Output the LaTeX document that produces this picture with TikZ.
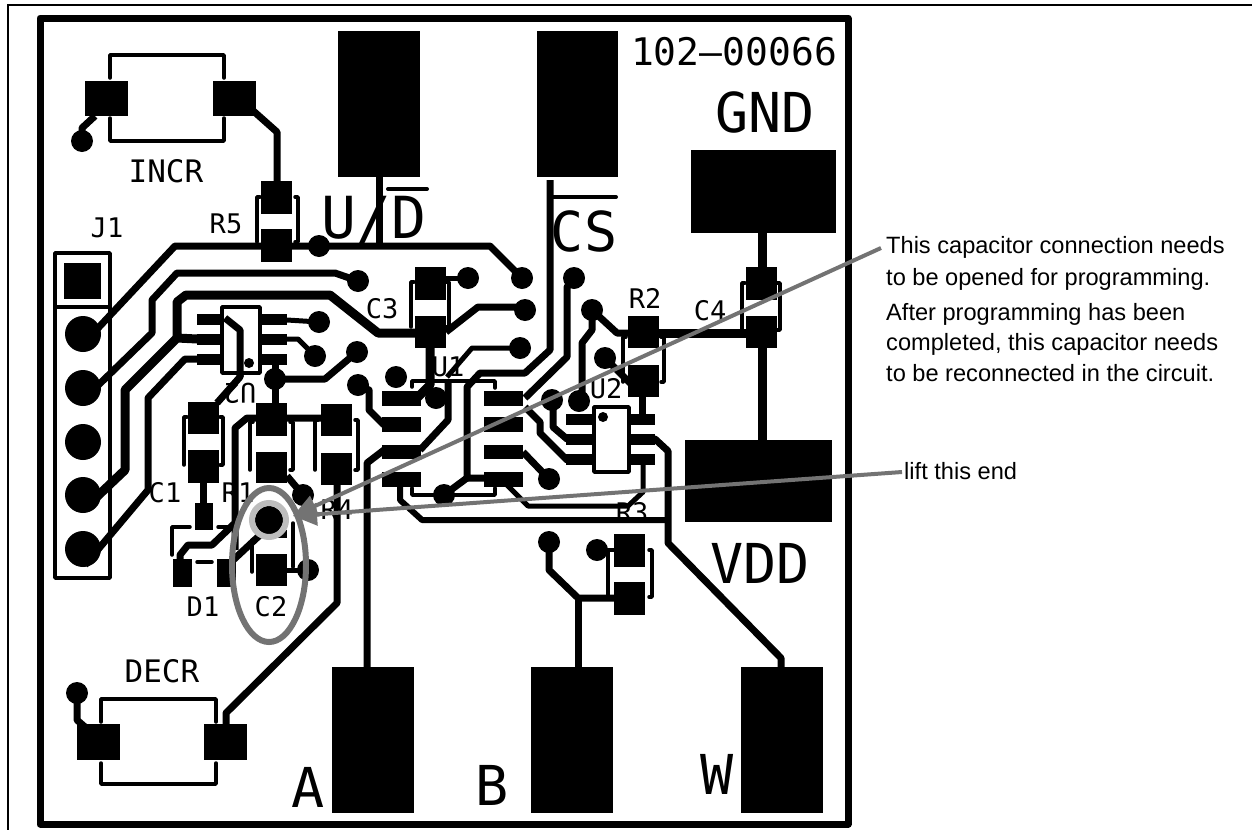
\documentclass[tikz,border=0pt]{standalone}
\usepackage{fontspec}
\usetikzlibrary{arrows.meta}
\setmainfont{Liberation Sans}
\newfontfamily\pcbfont{DejaVu Sans Mono}

\tikzset{
  trace/.style={line width=7pt,line join=round},
  silk/.style={line width=3.5pt,line cap=round,line join=round},
  legend/.style={font=\pcbfont\fontsize{27}{27}\selectfont,inner sep=0pt},
  biglegend/.style={font=\pcbfont\fontsize{55}{55}\selectfont,inner sep=0pt},
  midlegend/.style={font=\pcbfont\fontsize{31}{31}\selectfont,inner sep=0pt},
  note/.style={font=\fontsize{23.6}{23.6}\selectfont,anchor=west,inner sep=0pt},
  leader/.style={draw=leadgray,line width=4pt,-{Triangle[length=24pt,width=22pt]}}
}
\definecolor{leadgray}{HTML}{737373}
\definecolor{ringgray}{HTML}{BDBDBD}

\begin{document}
\begin{tikzpicture}[x=1pt,y=-1pt]
\useasboundingbox (0,0) rectangle (1252,830);

% Page and board edges
\draw[line width=2.5pt] (1252,5) -- (8,5) -- (8,830);
\draw[line width=7pt,line join=round] (40,18) rectangle (848,824);

% Legends
\node[legend] (j1txt) at (107,228) {J1};
\node[legend] (r5txt) at (226,224) {R5};
\node[legend] (c3txt) at (382,309) {C3};
\node[legend] (r2txt) at (645,298) {R2};
\node[legend] (c4txt) at (710,311) {C4};
\node[legend] (u2txt) at (606,389) {U2};
\node[legend] (u1txt) at (448,367) {U1};
\node[legend,rotate=180] (u3txt) at (240,393) {U2};
\node[legend] (c1txt) at (165,493) {C1};
\node[legend] (r1txt) at (238,493) {R1};
\node[legend] (r4txt) at (337,510) {R4};
\node[legend] (d1txt) at (203,607) {D1};
\node[legend] (c2txt) at (271,607) {C2};
\node[legend] (r3txt) at (632,513) {R3};
\node[midlegend] (incrtxt) at (166,171) {INCR};
\node[midlegend] (decrtxt) at (162,671) {DECR};
\node[biglegend] (gndtxt) at (765,112) {GND};
\node[biglegend] (vddtxt) at (760,563) {VDD};
\node[biglegend] (atxt) at (308,787) {A};
\node[biglegend] (btxt) at (492,785) {B};
\node[biglegend] (wtxt) at (717,774) {W};
\node[biglegend,font=\pcbfont\fontsize{58}{58}\selectfont] (udtxt) at (374,220) {U/D};
\node[biglegend] (cstxt) at (584,231) {CS};
\node[font=\pcbfont\fontsize{38}{38}\selectfont,inner sep=0pt] (parttxt) at (734,52) {102–00066};
\draw[line width=4pt,line cap=round] (388,189) -- (427,189);
\draw[line width=4pt,line cap=round] (552,197) -- (616,197);

% Pad outlines
\draw[silk] (110,78) -- (110,55) -- (224,55) -- (224,78);
\draw[silk] (110,118) -- (110,141) -- (224,141) -- (224,118);
\draw[silk] (101,722) -- (101,699) -- (216,699) -- (216,722);
\draw[silk] (101,763) -- (101,784) -- (216,784) -- (216,763);
\draw[silk] (55,578) -- (55,253) -- (110,253) -- (110,578) -- cycle;
\draw[silk] (55,307) -- (110,307);
\draw[silk] (222,307) rectangle (260,373);
\draw[silk] (594,407) rectangle (629,472);
\draw[silk] (412,387) -- (412,381) -- (495,381) -- (495,388);
\draw[silk] (412,488) -- (412,495) -- (495,495) -- (495,488);
\foreach \xl/\xr/\yt/\yb in {257/298/197/242, 184/223/417/465, 250/293/422/470,
    315/358/420/470, 411/449/282/327, 623/664/337/382, 742/780/283/330, 608/652/550/597}
  \draw[silk] (\xl+3,\yt) -- (\xl,\yt) -- (\xl,\yb) (\xr-3,\yt) -- (\xr,\yt) -- (\xr,\yb) -- (\xr-3,\yb);
\draw[silk] (252,540) -- (252,572);
\draw[silk] (293,523) -- (293,567);
\draw[silk] (172,555) -- (172,527) -- (190,527);
\draw[silk] (218,527) -- (232,527);
\draw[silk] (197,562) -- (212,562);

% Traces
\draw[trace] (85,342) -- (175,246) -- (490,246) -- (522,278);
\draw[trace] (85,398) -- (152,333) -- (152,300) -- (177,273) -- (335,273) -- (358,281);
\draw[trace,line width=9pt] (85,508) -- (125,470) -- (125,390) -- (177,338) -- (197,339);
\draw[trace,line width=9pt] (177,338) -- (177,302) -- (186,295) -- (330,295) -- (378,333) -- (415,333);
\draw[trace] (85,565) -- (148,490) -- (148,398) -- (185,359) -- (197,359);
\draw[trace] (95,116) -- (82,128) -- (82,141);
\draw[trace] (250,108) -- (277,132) -- (277,185);
\draw[trace] (77,693) -- (77,720) -- (85,727);
\draw[trace] (226,726) -- (226,713) -- (337,603) -- (337,480);
\draw[trace] (379,177) -- (379,246);
\draw[trace] (550,180) -- (550,350) -- (525,373) -- (480,373) -- (467,387) -- (467,478) -- (484,478);
\draw[trace] (467,478) -- (444,495);
\draw[trace] (525,398) -- (567,357) -- (567,287) -- (575,278);
\draw[trace] (525,407) -- (540,422) -- (540,433) -- (567,460) -- (594,460);
\draw[trace] (523,452) -- (549,479);
\draw[trace,line width=5pt] (507,485) -- (528,506) -- (628,506) -- (643,492) -- (643,463);
\draw[trace,line width=6pt] (400,487) -- (400,500) -- (422,520) -- (667,520);
\draw[trace] (632,439) -- (655,439) -- (668,451) -- (668,543) -- (781,658) -- (781,667);
\draw[trace,line width=9pt] (430,348) -- (430,385) -- (415,400);
\draw[trace] (446,332) -- (478,307) -- (525,307);
\draw[trace,line width=5pt] (447,377) -- (472,348) -- (520,348);
\draw[trace] (448,380) -- (448,420) -- (420,450);
\draw[trace] (358,385) -- (369,390) -- (369,410) -- (384,425);
\draw[trace] (384,450) -- (367,463) -- (367,668);
\draw[trace] (225,318) -- (240,330) -- (240,377) -- (217,403);
\draw[trace,line width=5pt] (287,320) -- (319,322);
\draw[trace,line width=5pt] (287,339) -- (298,339) -- (315,356);
\draw[trace] (275,362) -- (275,405);
\draw[trace] (275,379) -- (325,379) -- (357,352);
\draw[trace] (235,550) -- (235,428) -- (247,418) -- (321,418);
\draw[trace] (235,523) -- (212,545) -- (188,545) -- (180,555) -- (180,563);
\draw[trace] (230,563) -- (260,535);
\draw[trace] (203,483) -- (203,505);
\draw[trace] (287,476) -- (303,495);
\draw[trace,line width=5pt] (287,570) -- (308,570);
\draw[trace,line width=5pt] (446,278) -- (468,278);
\draw[trace] (592,310) -- (592,330) -- (582,343) -- (582,400);
\draw[trace] (592,310) -- (617,333) -- (630,333);
\draw[trace] (605,358) -- (632,385);
\draw[trace] (553,400) -- (553,427) -- (567,439) -- (594,439);
\draw[trace] (642,397) -- (642,415);
\draw[trace,line width=9pt] (659,333) -- (746,333);
\draw[trace,line width=9pt] (762,233) -- (762,267);
\draw[trace,line width=9pt] (762,348) -- (762,440);
\draw[trace] (549,542) -- (549,570) -- (578,598) -- (614,598);
\draw[trace] (578,598) -- (578,668);
\draw[trace,line width=4pt] (597,550) -- (614,550);

% Pads
\foreach \xa/\ya/\xb/\yb in {338/31/420/177, 537/31/618/177, 691/150/836/233, 685/440/832/522,
    332/667/414/813, 531/667/613/813, 741/667/823/813,
    85/81/128/116, 213/81/256/116, 77/724/120/760, 204/724/247/760, 64/263/101/299,
    261/181/292/214, 261/229/292/262, 415/267/446/300, 415/316/446/348,
    628/316/659/348, 628/365/659/397, 746/267/777/300, 746/316/777/348,
    614/534/645/567, 614/582/645/615,
    188/402/219/434, 188/450/219/483, 256/403/287/436, 256/452/287/483,
    321/404/352/436, 321/453/352/485, 195/503/213/530,
    256/530/287/538, 256/554/287/586, 173/559/192/587, 217/559/236/587,
    197/314/222/325, 197/334/222/345, 197/354/222/365,
    261/314/287/325, 261/334/287/345, 261/354/287/365,
    382/391/421/406, 382/417/421/432, 382/445/421/459, 382/472/421/487,
    484/391/523/406, 484/417/523/432, 484/445/523/459, 484/472/523/487,
    566/414/594/425, 566/434/594/445, 566/454/594/465,
    629/414/655/425, 629/434/655/445, 629/454/655/465}
  \fill (\xa,\ya) rectangle (\xb,\yb);

% Vias and header pins
\foreach \x/\y in {82/141, 319/246, 358/281, 319/322, 315/356, 357/352, 275/379, 358/385,
    396/377, 436/398, 444/495, 468/278, 522/278, 525/310, 520/348, 574/278, 592/310,
    605/358, 552/400, 579/401, 549/479, 549/542, 597/550, 303/495, 308/570, 77/693}
  \fill (\x,\y) circle (11);
\foreach \y in {334,388,442,495,549}
  \fill (83,\y) circle (18);
\fill[white] (224,309) rectangle (258,371);
\fill[white] (596,409) rectangle (627,470);
\draw[trace] (225,318) -- (240,330) -- (240,377);
\fill (249,363) circle (5);
\fill (603,417) circle (5);

% Lifted end
\fill (269,520) circle (14);
\draw[ringgray,line width=6pt] (269,520) circle (17);
\draw[leadgray,line width=6pt] (269,565) ellipse (37 and 77);

% Notes
\node[note] (note1) at (886,247) {This capacitor connection needs};
\node[note] (note2) at (886,279) {to be opened for programming.};
\node[note] (note3) at (886,314) {After programming has been};
\node[note] (note4) at (886,344) {completed, this capacitor needs};
\node[note] (note5) at (886,373) {to be reconnected in the circuit.};
\node[note] (note6) at (904,471) {lift this end};
\coordinate (liftend) at (293,516);
\draw[leader] ([xshift=-5pt,yshift=-1pt]note1.west) -- (liftend);
\draw[leader] ([xshift=-2pt,yshift=-1pt]note6.west) -- (liftend);

\end{tikzpicture}
\end{document}
